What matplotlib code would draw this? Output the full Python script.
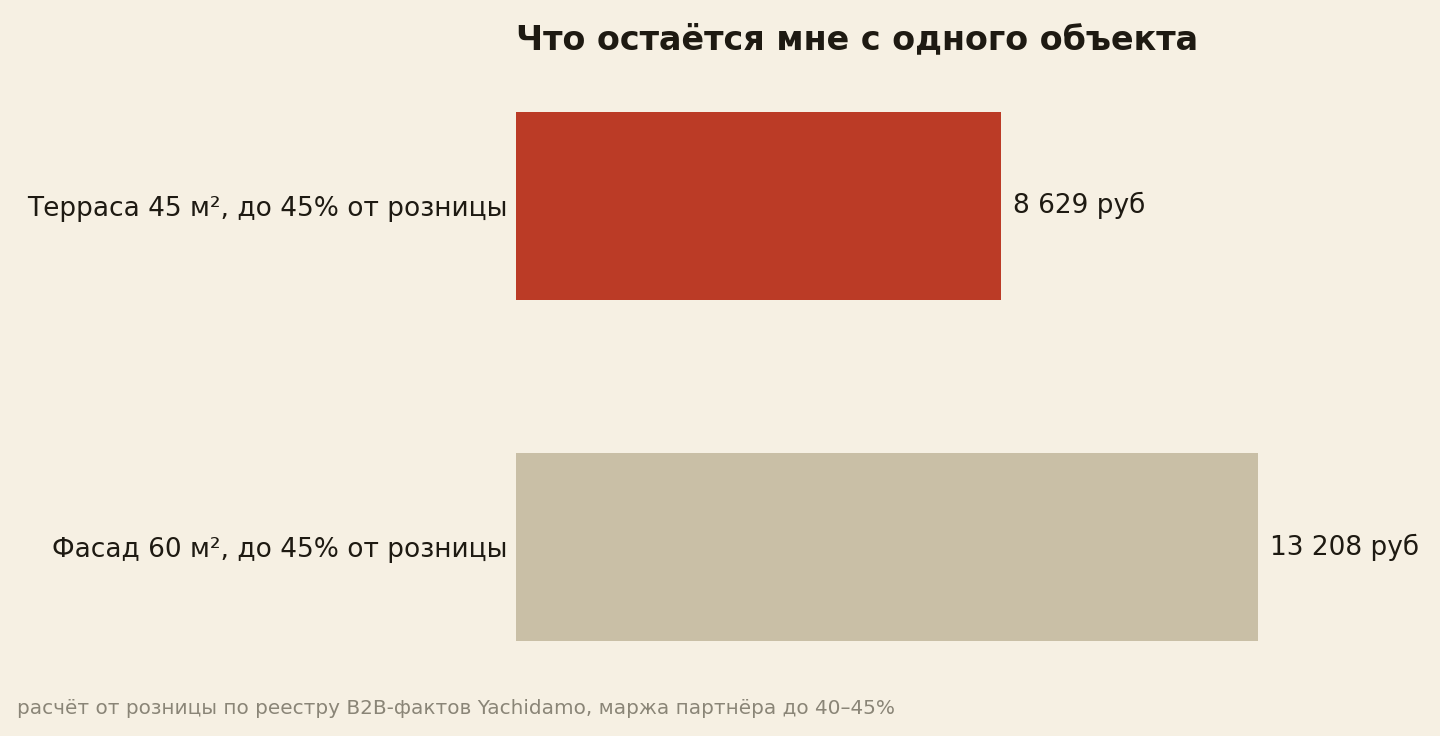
import matplotlib.pyplot as plt

categories = ["Терраса 45 м², до 45% от розницы", "Фасад 60 м², до 45% от розницы"]
values = [8629, 13208]
value_labels = ["8 629 руб", "13 208 руб"]
colors = ["#BB3B26", "#C9BFA6"]

BG = "#F6F0E3"
INK = "#1E1A12"

fig = plt.figure(figsize=(14.4, 7.36), dpi=100, facecolor=BG)
ax = fig.add_axes([516 / 1440, 95 / 736, 816 / 1440, 529 / 736])
ax.set_facecolor(BG)

y = list(range(len(categories)))
ax.barh(y, values, height=0.55, color=colors, edgecolor="none")
ax.set_xlim(0, max(values) * 1.1)
ax.set_ylim(1.275, -0.275)

for yi, v, lab in zip(y, values, value_labels):
    ax.text(v + max(values) * 0.017, yi, lab, va="center", ha="left", fontsize=19, color=INK)

ax.set_yticks(y)
ax.set_yticklabels(categories, fontsize=19, color=INK)
ax.tick_params(axis="y", length=0, pad=6)
ax.set_xticks([])
for s in ax.spines.values():
    s.set_visible(False)

fig.text(516 / 1440, 1 - 40 / 736, "Что остаётся мне с одного объекта", fontsize=24,
         fontweight="bold", color=INK, ha="left", va="center")
fig.text(17 / 1440, 1 - 708 / 736,
         "расчёт от розницы по реестру B2B-фактов Yachidamo, маржа партнёра до 40–45%",
         fontsize=14.4, color="#8A8577", ha="left", va="center")

fig.savefig("out.png", dpi=100, facecolor=BG)
